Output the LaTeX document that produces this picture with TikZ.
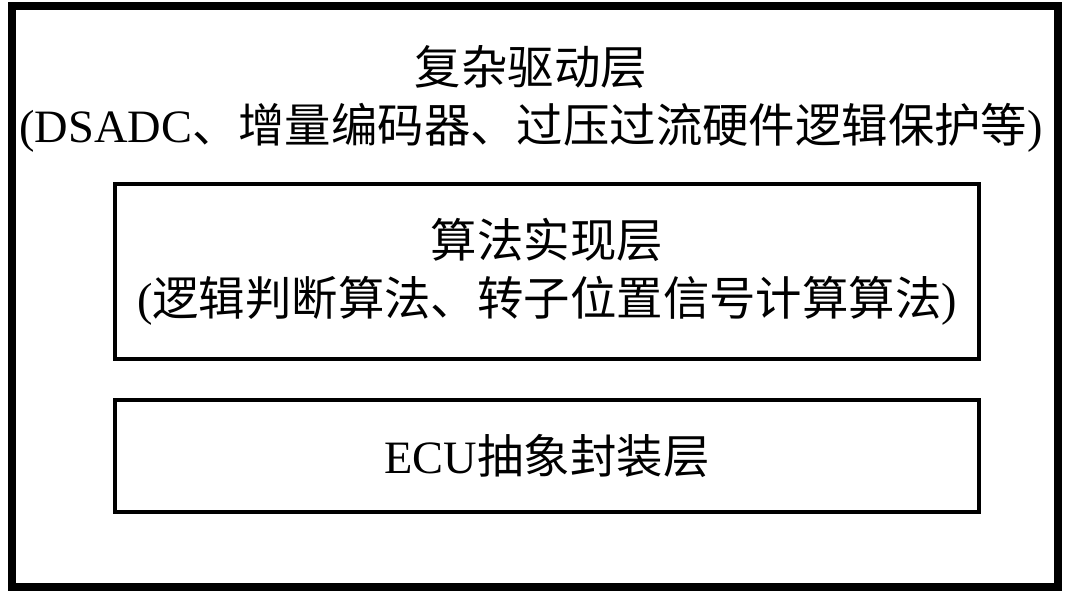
\documentclass[tikz,border=0pt]{standalone}
\usepackage{fontspec}
\setmainfont{Liberation Serif}
\newfontfamily\cjk{Noto Sans CJK SC}
\usepackage{tikz}
\usetikzlibrary{calc}

\tikzset{
	layerbox/.style={draw, line width=3.2pt, align=center, inner sep=0pt},
	layertext/.style={align=center, inner sep=0pt,
		font=\fontsize{33}{41}\selectfont}
}

\begin{document}
\begin{tikzpicture}[x=0.025cm, y=-0.025cm]
	\useasboundingbox (0, 0) rectangle (1080, 609);
	% Settings
	\pgfmathsetmacro{\boxleft}{115}
	\pgfmathsetmacro{\boxright}{979}
	% /Settings
	\pgfmathsetmacro{\boxmid}{(\boxleft+\boxright)/2}
	% outer layer
	\draw[line width=5pt] (12, 6) rectangle (1058, 587);
	\node[layertext] (cdd) at (531, 99)
		{{\cjk 复杂驱动层}\\(DSADC{\cjk 、增量编码器、过压过流硬件逻辑保护等})};
	% inner layers
	\node[layerbox, layertext, minimum width=21.6cm, minimum height=4.375cm] (algo)
		at (\boxmid, 271.5)
		{{\cjk 算法实现层}\\({\cjk 逻辑判断算法、转子位置信号计算算法})};
	\node[layerbox, layertext, minimum width=21.6cm, minimum height=2.8cm] (ecual)
		at (\boxmid, 456)
		{ECU{\cjk 抽象封装层}};
\end{tikzpicture}
\end{document}
